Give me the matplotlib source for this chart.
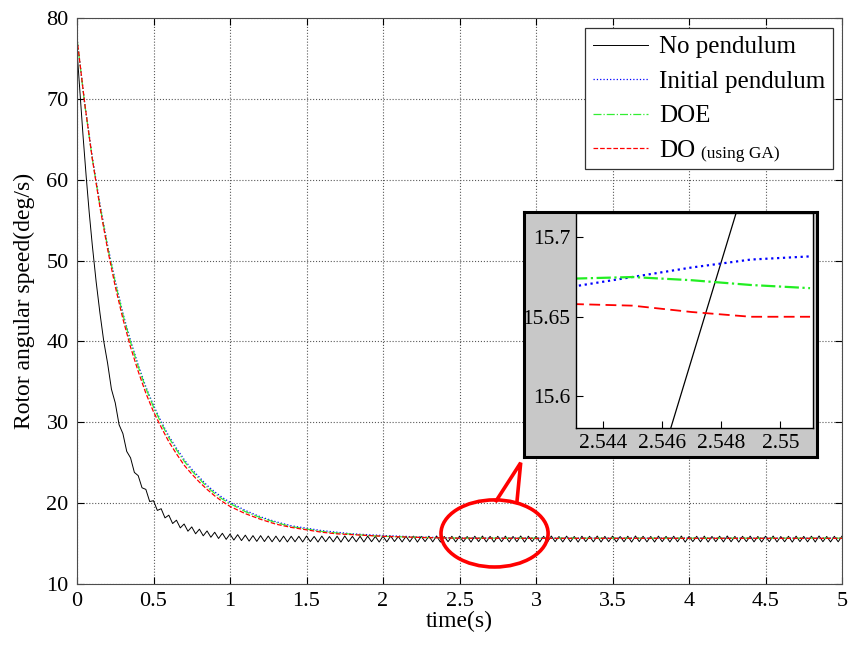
import numpy as np
import matplotlib.pyplot as plt
from matplotlib.patches import Ellipse

plt.rcParams['font.family'] = ['Liberation Serif', 'DejaVu Serif']

# --- No pendulum: fast decay then ~20 Hz ripple ---
black_t_early = [0, 0.02, 0.04, 0.06, 0.08, 0.10, 0.125, 0.15, 0.175, 0.2, 0.225,
                 0.25, 0.275, 0.3, 0.325, 0.35, 0.375, 0.4, 0.425, 0.45, 0.475]
black_early = [76.0, 70.6, 65.3, 60.4, 55.9, 51.9, 47.4, 43.5, 40.0, 37.3, 34.1,
               32.4, 29.7, 28.6, 26.4, 25.6, 23.8, 23.4, 21.9, 21.7, 20.2]
# ripple extrema every 0.025 s from t=0.5 to t=5.0
black_osc = [20.30, 19.10, 19.31, 18.18, 18.51, 17.48, 17.89, 16.94, 17.42, 16.53,
             17.06, 16.21, 16.78, 15.96, 16.56, 15.78, 16.40, 15.63, 16.27, 15.52,
             16.17, 15.43, 16.10, 15.37, 16.04, 15.30, 15.98, 15.27, 15.98, 15.25,
             15.93, 15.22, 15.92, 15.22, 15.92, 15.20, 15.90,
             15.22, 15.90, 15.20, 15.93, 15.24, 15.88, 15.19, 15.92, 15.23, 15.87,
             15.21, 15.91, 15.18, 15.94, 15.24, 15.89, 15.22, 15.90, 15.20, 15.92,
             15.23, 15.88, 15.19, 15.91, 15.21, 15.93, 15.25, 15.87, 15.20, 15.90,
             15.22, 15.92, 15.18, 15.89, 15.24, 15.91, 15.21, 15.94, 15.19, 15.88,
             15.23, 15.90, 15.20, 15.92, 15.22, 15.87, 15.18, 15.91, 15.24, 15.93,
             15.21, 15.89, 15.19, 15.90, 15.23, 15.92, 15.20, 15.88, 15.22, 15.94,
             15.18, 15.91, 15.24, 15.89, 15.21, 15.90, 15.19, 15.93, 15.23, 15.87,
             15.20, 15.92, 15.22, 15.88, 15.18, 15.91, 15.24, 15.90, 15.21, 15.93,
             15.19, 15.89, 15.23, 15.92, 15.20, 15.87, 15.22, 15.91, 15.18, 15.94,
             15.24, 15.90, 15.21, 15.88, 15.19, 15.92, 15.23, 15.89, 15.20, 15.91,
             15.22, 15.93, 15.18, 15.87, 15.24, 15.90, 15.21, 15.92, 15.19, 15.88,
             15.23, 15.91, 15.20, 15.94, 15.22, 15.89, 15.18, 15.90, 15.24, 15.92,
             15.21, 15.88, 15.19, 15.91, 15.23, 15.93, 15.20, 15.87, 15.22, 15.90,
             15.18, 15.92, 15.24, 15.89, 15.21, 15.91, 15.19, 15.94, 15.23, 15.88,
             15.20, 15.90, 15.22, 15.92]
black_t_osc = np.linspace(0.5, 5.0, len(black_osc))

# --- pendulum cases ---
col_t = [0, 0.05, 0.1, 0.15, 0.2, 0.25, 0.3, 0.35, 0.4, 0.45, 0.5, 0.55, 0.6, 0.65,
         0.7, 0.75, 0.8, 0.85, 0.9, 0.95, 1.0, 1.1, 1.2, 1.3, 1.4, 1.5, 1.6, 1.7,
         1.8, 1.9, 2.0, 2.25, 2.5, 3.0, 3.5, 4.0, 4.5, 5.0]
initial_pend = [77.5, 69.5, 62.8, 57.0, 51.9, 47.5, 43.5, 40.1, 37.1, 34.4, 32.1,
                30.1, 28.3, 26.8, 25.4, 24.2, 23.2, 22.2, 21.4, 20.7, 20.1, 19.1,
                18.3, 17.7, 17.2, 16.9, 16.6, 16.4, 16.2, 16.1, 16.0, 15.8, 15.69,
                15.68, 15.68, 15.68, 15.68, 15.68]
doe = [77.5, 69.4, 62.6, 56.8, 51.7, 47.3, 43.3, 39.9, 36.9, 34.2, 31.9, 29.9,
       28.1, 26.6, 25.2, 24.0, 23.0, 22.0, 21.2, 20.5, 19.95, 18.95, 18.2, 17.6,
       17.1, 16.8, 16.5, 16.3, 16.15, 16.0, 15.9, 15.76, 15.673, 15.67, 15.67,
       15.67, 15.67, 15.67]
do_ga = [77.5, 69.5, 62.6, 56.6, 51.4, 46.8, 42.8, 39.3, 36.3, 33.6, 31.3, 29.4,
         27.6, 26.1, 24.7, 23.6, 22.6, 21.7, 20.9, 20.2, 19.6, 18.7, 18.0, 17.4,
         17.0, 16.7, 16.4, 16.2, 16.1, 16.0, 15.9, 15.75, 15.66, 15.65, 15.65,
         15.65, 15.65, 15.65]

# --- zoomed inset ---
ins_black_t = [2.5463, 2.5485]
ins_black = [15.58, 15.715]
ins_t = [2.543, 2.545, 2.547, 2.549, 2.551]
ins_initial = [15.669, 15.675, 15.681, 15.686, 15.688]
ins_doe = [15.674, 15.675, 15.673, 15.670, 15.668]
ins_do = [15.658, 15.657, 15.653, 15.650, 15.650]

x_ticks = [0, 0.5, 1, 1.5, 2, 2.5, 3, 3.5, 4, 4.5, 5]
x_tick_labels = ['0', '0.5', '1', '1.5', '2', '2.5', '3', '3.5', '4', '4.5', '5']
y_ticks = [10, 20, 30, 40, 50, 60, 70, 80]
ins_x_ticks = [2.544, 2.546, 2.548, 2.55]
ins_x_labels = ['2.544', '2.546', '2.548', '2.55']
ins_y_ticks = [15.6, 15.65, 15.7]
ins_y_labels = ['15.6', '15.65', '15.7']

fig = plt.figure(figsize=(8.5, 6.48), dpi=100)
ax = fig.add_axes([0.0906, 0.0988, 0.9, 0.8732])

black_t = list(black_t_early) + list(black_t_osc)
black_v = list(black_early) + list(black_osc)
ax.plot(black_t, black_v, color='black', lw=0.7, label='No pendulum')
ax.plot(col_t, initial_pend, color='blue', ls=':', lw=0.9, label='Initial pendulum')
ax.plot(col_t, doe, color='#33ee33', ls='-.', lw=0.9, label='DOE')
ax.plot(col_t, do_ga, color='red', ls='--', lw=0.9, label='DO')

ax.set_xlim(0, 5)
ax.set_ylim(10, 80)
ax.set_xticks(x_ticks)
ax.set_xticklabels(x_tick_labels)
ax.set_yticks(y_ticks)
ax.tick_params(direction='in', top=True, right=True, labelsize=16, length=5, pad=6)
ax.grid(True, ls=':', color='0.35', lw=0.8)
for s in ax.spines.values():
    s.set_color('0.3')
ax.set_xlabel('time(s)', fontsize=17, labelpad=0)
ax.set_ylabel('Rotor angular speed(deg/s)', fontsize=17, labelpad=8)

leg = ax.legend(loc='upper right', bbox_to_anchor=(0.988, 0.982), borderaxespad=0,
                fontsize=18, fancybox=False, framealpha=1, edgecolor='0.2',
                handlelength=2.2, labelspacing=0.48, borderpad=0.3, handletextpad=0.45)
leg.get_frame().set_linewidth(0.9)

# callout marking the zoomed zone
ax.add_patch(Ellipse((2.729, 16.25), 0.70, 8.3, fill=False, ec='red', lw=2.6, zorder=6))
ax.plot([2.74, 2.90, 2.875], [20.3, 25.0, 20.1], color='red', lw=2.6, zorder=6,
        clip_on=False, solid_joinstyle='miter')

# inset background panel and zoomed axes
ax_bg = fig.add_axes([524 / 850, 1 - 457 / 648, 293 / 850, 245 / 648])
ax_bg.set_facecolor('#c8c8c8')
ax_bg.set_xticks([])
ax_bg.set_yticks([])
for s in ax_bg.spines.values():
    s.set_linewidth(2.2)
    s.set_color('black')

ins = fig.add_axes([576 / 850, 1 - 428 / 648, 237 / 850, 215 / 648])
ins.plot(ins_black_t, ins_black, color='black', lw=0.9)
ins.plot(ins_t, ins_initial, color='blue', ls=':', lw=1.6)
ins.plot(ins_t, ins_doe, color='#22ee22', ls='-.', lw=1.6)
ins.plot(ins_t, ins_do, color='red', ls=(0, (6, 3)), lw=1.3)
ins.set_xlim(2.5431, 2.5511)
ins.set_ylim(15.58, 15.7153)
ins.set_xticks(ins_x_ticks)
ins.set_xticklabels(ins_x_labels)
ins.set_yticks(ins_y_ticks)
ins.set_yticklabels(ins_y_labels)
ins.tick_params(direction='in', labelsize=15.5, length=5, pad=4)
for s in ins.spines.values():
    s.set_linewidth(1.0)

# smaller "(using GA)" after the DO legend entry
fig.canvas.draw()
bb = leg.get_texts()[3].get_window_extent()
fig.text(bb.x1 + 6, bb.y0 + 4, '(using GA)', fontsize=12.5, transform=None)

fig.savefig('out.png', dpi=100)
